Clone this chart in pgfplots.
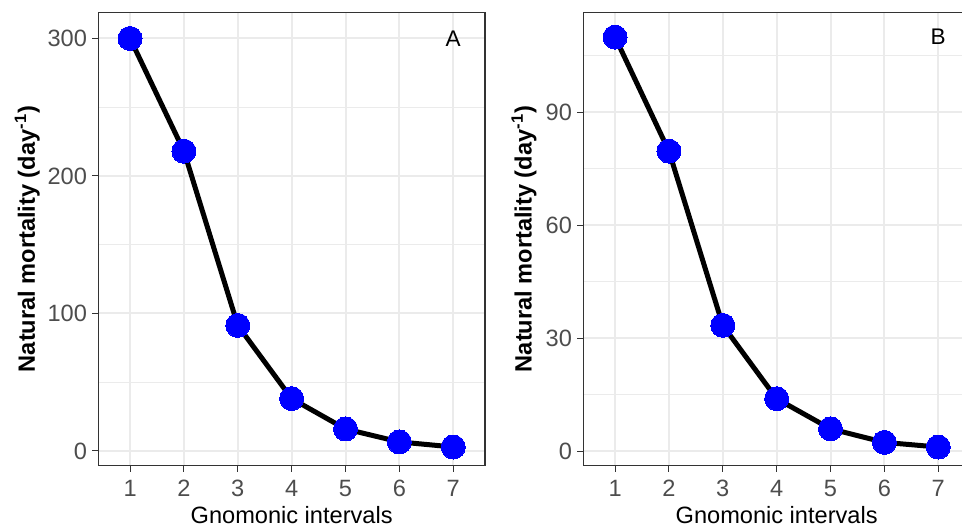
\documentclass[border=0pt]{standalone}
\usepackage{pgfplots}
\pgfplotsset{compat=1.18}
\usepackage{fontspec}
\setmainfont{Liberation Sans}
\definecolor{tickgrey}{HTML}{4D4D4D}
\definecolor{framegrey}{HTML}{333333}
\definecolor{gridgrey}{HTML}{EBEBEB}
\pgfplotsset{
  panel/.style={
    scale only axis, width=193.35pt, height=226.7pt, anchor=south west,
    xmin=0.41, xmax=7.59, xtick={1,...,7},
    axis line style={framegrey, line width=0.6pt},
    tick align=outside, tick pos=left,
    major tick length=3pt, minor tick length=0pt,
    every tick/.style={framegrey, line width=0.5pt},
    grid=both,
    major grid style={gridgrey, line width=1pt},
    minor grid style={gridgrey, line width=0.5pt},
    /pgf/number format/assume math mode=true,
    ticklabel style={font=\fontsize{11.8}{13}\selectfont, text=tickgrey},
    yticklabel style={inner sep=0pt, xshift=-2.5pt},
    xticklabel style={inner sep=0pt, yshift=-4pt},
    label style={font=\fontsize{11.8}{14}\selectfont},
    xlabel={Gnomonic intervals},
    ylabel={\textbf{Natural mortality (day\textsuperscript{-1})}},
    xlabel style={at={(axis description cs:0.5,-0.0889)}, anchor=north, inner sep=0pt},
  },
  curve/.style={black, line width=2.5pt, mark=*, mark size=6pt,
    mark options={solid, draw=blue, line width=0pt, fill=blue}},
}
\begin{document}
\begin{tikzpicture}
\path[use as bounding box, clip] (0,0) rectangle (481pt,262.5pt);
\begin{axis}[panel, at={(49.15pt,29.65pt)},
  ymin=-10.7, ymax=319, ytick={0,100,200,300}, minor ytick={50,150,250},
  ylabel style={at={(axis description cs:-0.1836,0.5)}, anchor=center}]
\addplot[curve] coordinates {(1,300) (2,218) (3,91.3) (4,38.1) (5,16) (6,6.6) (7,2.9)};
\node[font=\fontsize{11.3}{13}\selectfont] at (axis cs:7,300) {A};
\end{axis}
\begin{axis}[panel, at={(291.65pt,29.65pt)},
  ymin=-3.9, ymax=116.6, ytick={0,30,60,90}, minor ytick={15,45,75,105},
  ylabel style={at={(axis description cs:-0.1534,0.5)}, anchor=center}]
\addplot[curve] coordinates {(1,110) (2,79.7) (3,33.4) (4,13.9) (5,5.9) (6,2.3) (7,1.06)};
\node[font=\fontsize{11.3}{13}\selectfont] at (axis cs:7,110) {B};
\end{axis}
\end{tikzpicture}
\end{document}
